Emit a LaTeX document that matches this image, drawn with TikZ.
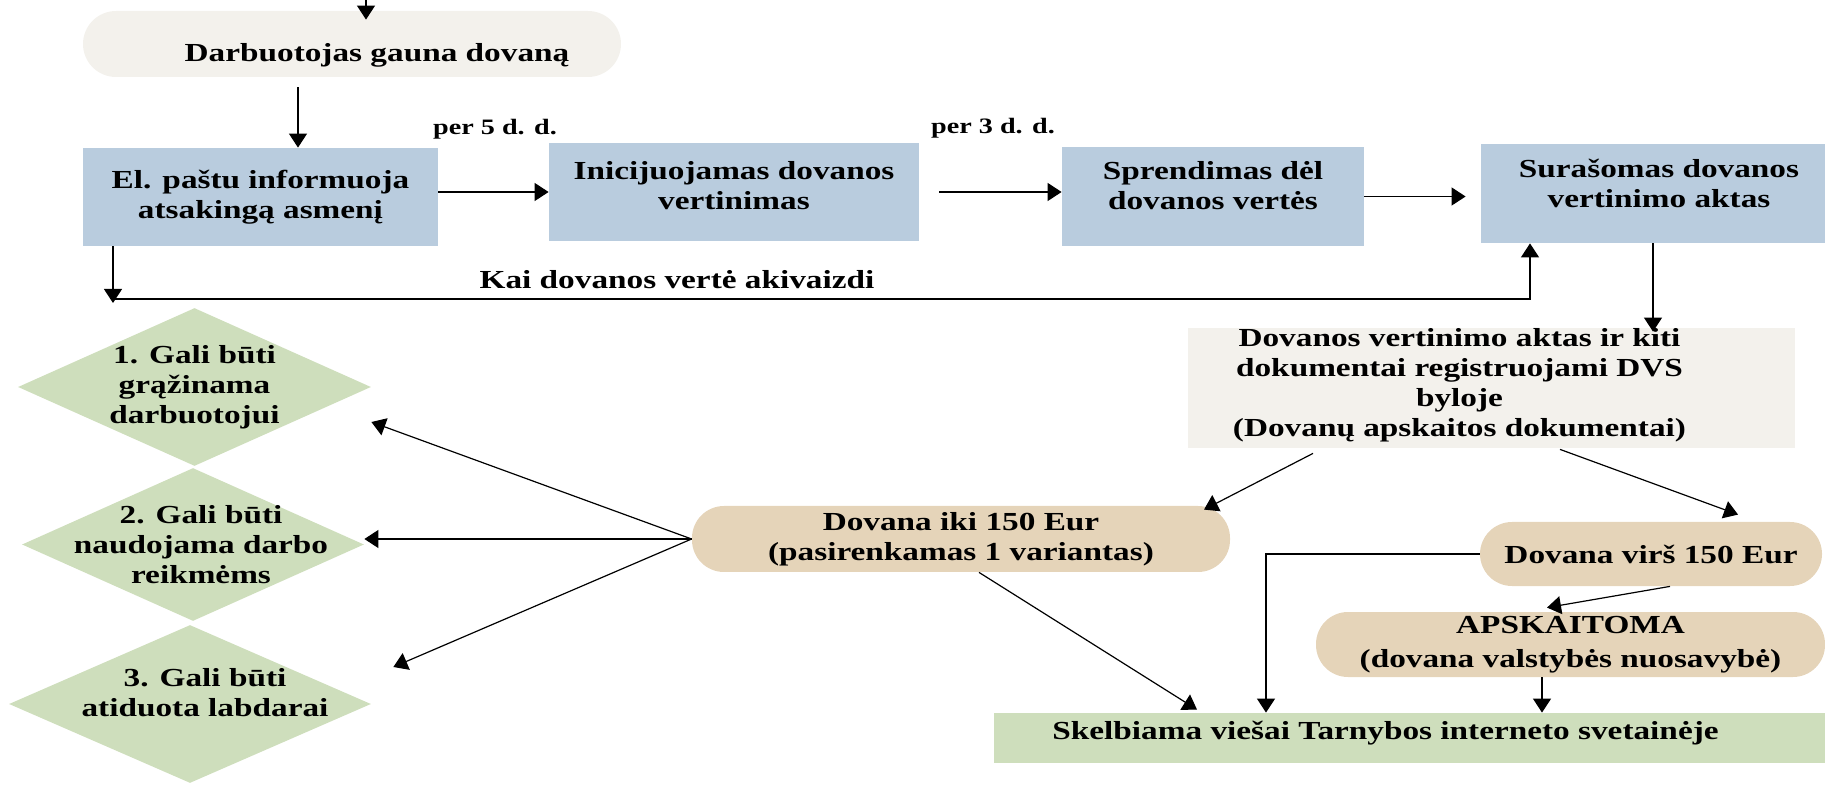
\documentclass[tikz,border=0pt]{standalone}
\usepackage{fontspec}
\setmainfont{Liberation Serif}[FakeStretch=1.28]
\usetikzlibrary{arrows.meta,shapes.geometric}

\definecolor{boxblue}{RGB}{185,204,222}
\definecolor{paper}{RGB}{243,241,236}
\definecolor{tanfill}{RGB}{229,212,185}
\definecolor{leaf}{RGB}{206,222,188}

\tikzset{
  txt/.style={font=\bfseries\fontsize{13}{15}\selectfont, align=center},
  stepbox/.style={txt, fill=boxblue, inner sep=0pt},
  pill/.style={txt, fill=tanfill, inner sep=0pt, rounded corners=16pt},
  choice/.style={diamond, fill=leaf, inner sep=0pt},
  arr/.style={-{Triangle[length=7pt,width=9pt]}, line width=0.6pt},
}

\begin{document}
\begin{tikzpicture}[x=0.5pt, y=-0.5pt]
    \useasboundingbox (0,0) rectangle (1825,785);

    % Top row
    \node[stepbox, fill=paper, rounded corners=16.5pt, minimum width=269pt, minimum height=33pt,
          label={[txt, name=startlbl, xshift=12.5pt, yshift=-5.5pt]center:Darbuotojas gauna dovaną}] (start) at (352,44) {};
    \node[stepbox, minimum width=177.5pt, minimum height=49pt] (b1) at (260.5,197) {El. paštu informuoja\\atsakingą asmenį};
    \node[stepbox, minimum width=185pt, minimum height=49pt,
          label={[txt, name=b2lbl, yshift=3pt]center:{Inicijuojamas dovanos\\vertinimas}}] (b2) at (734,192) {};
    \node[stepbox, minimum width=151pt, minimum height=49.5pt,
          label={[txt, name=b3lbl, yshift=5.5pt]center:{Sprendimas dėl\\dovanos vertės}}] (b3) at (1213,196.5) {};
    \node[stepbox, minimum width=172pt, minimum height=49.5pt,
          label={[txt, name=b4lbl, xshift=3pt, yshift=5pt]center:{Surašomas dovanos\\vertinimo aktas}}] (b4) at (1653,193.5) {};

    \node[txt, font=\bfseries\fontsize{11}{13}\selectfont] (per5) at (495,129) {per 5 d. d.};
    \node[txt, font=\bfseries\fontsize{11}{13}\selectfont] (per3) at (993,128) {per 3 d. d.};
    \node[txt] (kai) at (677,280) {Kai dovanos vertė akivaizdi};

    % Registration and value
    \node[stepbox, fill=paper, minimum width=303.5pt, minimum height=60pt,
          label={[txt, name=b5lbl, xshift=-16pt, yshift=1.5pt]center:{Dovanos vertinimo aktas ir kiti\\dokumentai registruojami DVS\\byloje\\(Dovanų apskaitos dokumentai)}}] (b5) at (1491.5,388) {};
    \node[pill, minimum width=269pt, minimum height=33pt] (b9) at (961,539) {Dovana iki 150 Eur\\(pasirenkamas 1 variantas)};
    \node[pill, minimum width=171pt, minimum height=32pt] (b6) at (1651,554) {Dovana virš 150 Eur};
    \node[pill, minimum width=254.5pt, minimum height=32.5pt] (b7) at (1570.5,644.5) {APSKAITOMA\\[2pt](dovana valstybės nuosavybė)};
    \node[stepbox, fill=leaf, minimum width=415.5pt, minimum height=25pt,
          label={[txt, name=b8lbl, xshift=-12pt, yshift=2.5pt]center:Skelbiama viešai Tarnybos interneto svetainėje}] (b8) at (1409.5,738) {};

    % Options
    \node[choice, minimum width=176.5pt, minimum height=79pt,
          label={[txt, name=d1lbl]center:{1. Gali būti\\grąžinama\\darbuotojui}}] (d1) at (194.5,387) {};
    \node[choice, minimum width=171pt, minimum height=76.5pt,
          label={[txt, name=d2lbl, xshift=4pt]center:{2. Gali būti\\naudojama darbo\\reikmėms}}] (d2) at (193,544.5) {};
    \node[choice, minimum width=181pt, minimum height=79pt,
          label={[txt, name=d3lbl, xshift=7.5pt, yshift=5.5pt]center:{3. Gali būti\\atiduota labdarai}}] (d3) at (190,704) {};

    % Arrows
    \coordinate (entry) at (366,0);
    \coordinate (kaiL) at (113,299);
    \coordinate (kaiR) at (1530,299);
    \draw[arr] (entry) -- ([yshift=-4.5pt]entry |- start.north);
    \draw[arr] ([shift={(-27pt,-5pt)}]start.south) -- ([xshift=18.75pt]b1.north);
    \draw[arr] (b1.east |- b2.west) -- (b2.west);
    \draw[arr] ([xshift=10pt]b2.east) -- (b3.west |- b2.east);
    \draw[arr] (b3.east) -- ([xshift=-7.5pt]b4.west |- b3.east);
    \draw[arr] (b1.south -| kaiL) -- ([yshift=-2pt]kaiL);
    \draw[arr] (kaiL) -- (kaiR) -- (kaiR |- b4.south);
    \draw[arr] (b4.south) -- ([yshift=-2pt]b4.south |- b5.north);

    \draw[arr] ([shift={(-89.25pt,-2.5pt)}]b5.south) -- ([shift={(121.5pt,-2pt)}]b9.north);
    \draw[arr] ([shift={(34.25pt,-0.5pt)}]b5.south) -- ([shift={(43.5pt,3.5pt)}]b6.north);

    \draw[arr] (b9.west) -- ([yshift=-17.5pt]d1.east);
    \draw[arr] (b9.west) -- (d2.east |- b9.west);
    \draw[arr] (b9.west) -- ([shift={(11pt,18.5pt)}]d3.east);
    \draw[arr] ([xshift=9pt]b9.south) -- ([shift={(-106.25pt,1.5pt)}]b8.north);

    \draw[arr] (b6.west) -| ([xshift=-71.75pt]b8.north);
    \draw[arr] ([xshift=9.5pt]b6.south) -- ([shift={(-11.75pt,2pt)}]b7.north);
    \draw[arr] ([xshift=-14.25pt]b7.south) -- ([xshift=-14.25pt]b7.south |- b8.north);
\end{tikzpicture}
\end{document}
